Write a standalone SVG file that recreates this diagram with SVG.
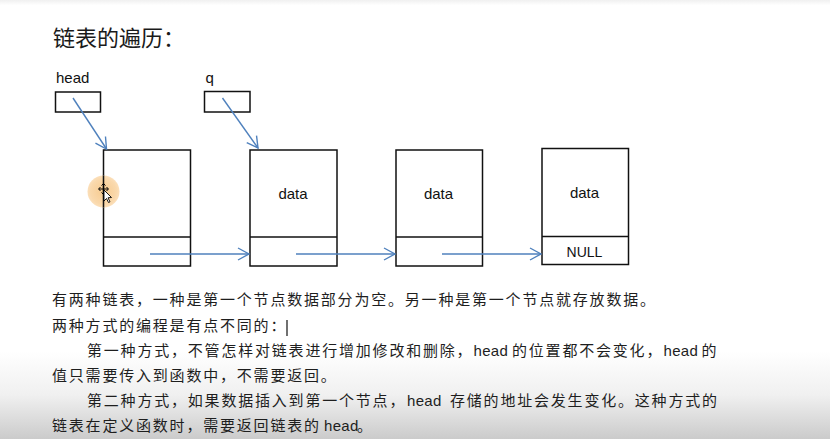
<svg xmlns="http://www.w3.org/2000/svg" width="830" height="439" viewBox="0 0 830 439">
  <defs>
    <linearGradient id="bg" x1="0" y1="0" x2="0" y2="1">
      <stop offset="0" stop-color="#f0f0f0"/>
      <stop offset="0.012" stop-color="#ffffff"/>
      <stop offset="0.8" stop-color="#ffffff"/>
      <stop offset="0.9" stop-color="#f0f0f0"/>
      <stop offset="1" stop-color="#cbcbcb"/>
    </linearGradient>
    <radialGradient id="spot" cx="0.5" cy="0.5" r="0.5">
      <stop offset="0" stop-color="#f6c583"/>
      <stop offset="0.8" stop-color="#f9d4a2"/>
      <stop offset="1" stop-color="#fbdcb3"/>
    </radialGradient>
    <marker id="arrow" viewBox="-12 -7 14 14" markerWidth="14" markerHeight="14" refX="0" refY="0" orient="auto" markerUnits="userSpaceOnUse">
      <path d="M-11,-6 L0,0 L-11,6" fill="none" stroke="#4f81bd" stroke-width="1.4"/>
    </marker>
  </defs>
  <style>
    .box { fill: none; stroke: #111; stroke-width: 1.5; }
    .lbl { font-family: "Liberation Sans", Arial, sans-serif; font-size: 15px; fill: #111; }
    .mid { text-anchor: middle; }
    .conn { fill: none; stroke: #4f81bd; stroke-width: 1.4; marker-end: url(#arrow); }
    .body { font-family: "Liberation Sans", "Noto Sans CJK SC", sans-serif; font-size: 15px; fill: #1e1e1e; }
    .cjk { letter-spacing: 1.8px; }
    .lat { letter-spacing: 0.3px; }
    .title { font-family: "Noto Sans CJK SC", sans-serif; font-size: 22px; fill: #1a1a1a; }
  </style>

  <rect x="0" y="0" width="830" height="439" fill="url(#bg)"/>

  <text class="title" x="53" y="46">链表的遍历：</text>

  <g id="ptr-head">
    <text class="lbl" x="56" y="83">head</text>
    <rect class="box" x="55.5" y="92" width="45" height="20" stroke-width="1.3"/>
  </g>
  <g id="ptr-q">
    <text class="lbl" x="205.5" y="83">q</text>
    <rect class="box" x="204.5" y="91.5" width="45.5" height="20.5" stroke-width="1.3"/>
  </g>

  <g id="node1">
    <rect class="box" x="103.5" y="150" width="87" height="116"/>
    <line class="box" x1="103.5" y1="237" x2="190.5" y2="237"/>
  </g>
  <g id="node2">
    <rect class="box" x="250" y="150" width="87" height="116"/>
    <line class="box" x1="250" y1="237" x2="337" y2="237"/>
    <text class="lbl mid" x="293" y="199">data</text>
  </g>
  <g id="node3">
    <rect class="box" x="396" y="150" width="86.5" height="116"/>
    <line class="box" x1="396" y1="237" x2="482.5" y2="237"/>
    <text class="lbl mid" x="438.5" y="199">data</text>
  </g>
  <g id="node4">
    <rect class="box" x="542" y="148.5" width="86.5" height="116"/>
    <line class="box" x1="542" y1="236.5" x2="628.5" y2="236.5"/>
    <text class="lbl mid" x="584.5" y="197.5">data</text>
    <text class="lbl mid" x="584.5" y="257" style="font-size:14px">NULL</text>
  </g>

  <g id="connectors">
    <line class="conn" x1="73" y1="98" x2="106.5" y2="149"/>
    <line class="conn" x1="222.5" y1="98" x2="258" y2="148"/>
    <line class="conn" x1="150" y1="254" x2="249" y2="254"/>
    <line class="conn" x1="296" y1="254" x2="395" y2="254"/>
    <line class="conn" x1="442" y1="254" x2="541" y2="254"/>
  </g>

  <g id="pointer">
    <circle cx="103.5" cy="191.5" r="16" fill="url(#spot)" opacity="0.9"/>
    <line x1="103.5" y1="175.5" x2="103.5" y2="207.5" stroke="#111" stroke-width="1.5"/>
    <path d="M99,189 L108,189 M103.5,184.5 L103.5,193.5" stroke="#000" stroke-width="1.2"/>
    <path d="M101.5,185.5 L103.5,183.5 L105.5,185.5 M101.5,192.5 L103.5,194.5 L105.5,192.5 M100.5,187 L98.5,189 L100.5,191 M106.5,187 L108.5,189 L106.5,191" fill="none" stroke="#000" stroke-width="1"/>
    <path d="M104,190 L104,201 L106.5,198.5 L108.5,202.5 L110,201.8 L108,197.8 L111.5,197.5 Z" fill="#fff" stroke="#000" stroke-width="0.9"/>
  </g>

  <g id="paragraph">
    <text class="body" y="305"><tspan class="cjk" x="52">有两种链表，一种是第一个节点数据部分为空。另一种是第一个节点就存放数据。</tspan></text>
    <text class="body" y="330.5"><tspan class="cjk" x="52">两种方式的编程是有点不同的：</tspan></text>
    <line x1="287" y1="320" x2="287" y2="336" stroke="#111" stroke-width="1.2"/>
    <text class="body" y="355.5"><tspan class="cjk" x="87">第一种方式，不管怎样对链表进行增加修改和删除，</tspan><tspan class="lat" x="473.5">head</tspan><tspan class="cjk" x="512">的位置都不会变化，</tspan><tspan class="lat" x="663.5">head</tspan><tspan class="cjk" x="701.5">的</tspan></text>
    <text class="body" y="380.5"><tspan class="cjk" x="52">值只需要传入到函数中，不需要返回。</tspan></text>
    <text class="body" y="405.5"><tspan class="cjk" x="87">第二种方式，如果数据插入到第一个节点，</tspan><tspan class="lat" x="407">head</tspan><tspan class="cjk" x="450">存储的地址会发生变化。这种方式的</tspan></text>
    <text class="body" y="430.5"><tspan class="cjk" x="52">链表在定义函数时，需要返回链表的</tspan><tspan class="lat" x="324">head</tspan><tspan class="cjk" x="357">。</tspan></text>
  </g>
</svg>
